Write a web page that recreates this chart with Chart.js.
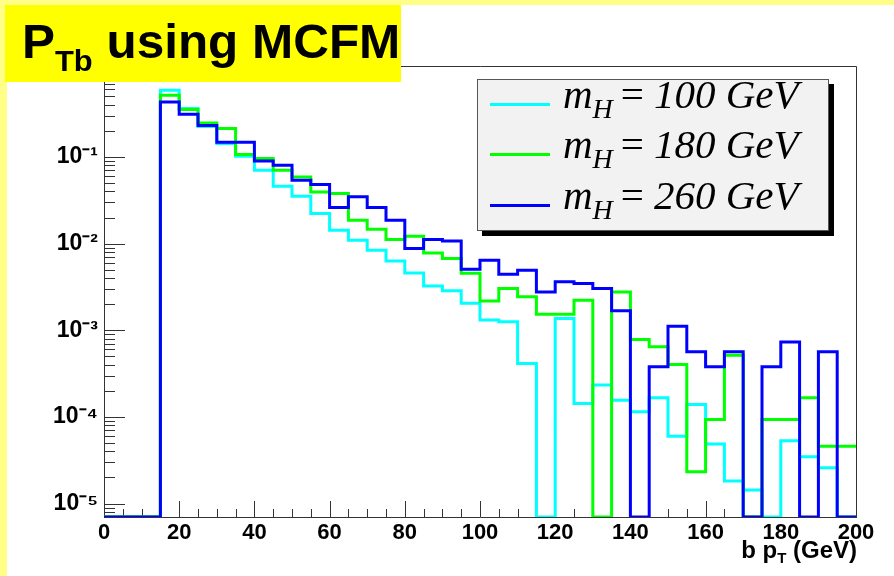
<!DOCTYPE html>
<html>
<head>
<meta charset="utf-8" />
<script src="https://cdnjs.cloudflare.com/ajax/libs/Chart.js/4.4.1/chart.umd.js"></script>
<style>
  body { margin: 0; background: #fff; }
  #page { position: relative; width: 894px; height: 576px; overflow: hidden; background: #fff; }
  #topband { position: absolute; left: 0; top: 0; width: 894px; height: 5px; background: #ffff88; }
  #leftband { position: absolute; left: 0; top: 0; width: 7px; height: 576px; background: #ffff88; }
  #chart { position: absolute; left: 0; top: 0; }
  #title {
    position: absolute; left: 5px; top: 5px; width: 396px; height: 77px; background: #ffff00;
    font-family: "Liberation Sans", Arial, sans-serif; font-weight: 700; font-size: 48px; color: #000;
    white-space: nowrap;
  }
  #title .t { position: absolute; left: 17px; top: 13px; line-height: 1; transform: scaleX(1.03); transform-origin: left; }
  #title sub { font-size: 30px; vertical-align: -13px; line-height: 1; }
  #legend {
    position: absolute; left: 477px; top: 79px; width: 350px; height: 150px;
    background: #f2f2f2; border: 1px solid #555; box-shadow: 5px 5px 0 #000;
  }
  .row { position: absolute; left: 0; height: 50px; width: 350px; }
  .row .ln { position: absolute; left: 12px; top: 0; width: 60px; height: 3px; }
  .row .tx {
    position: absolute; left: 85px; top: -33px; white-space: nowrap;
    font-family: "Liberation Serif", "Times New Roman", serif; font-style: italic; font-size: 41px; color: #000;
  }
  .row .tx sub { font-size: 28px; vertical-align: -10px; }
  .row .tx .eq { font-style: normal; margin: 0 10px 0 8px; }
  #xtitle {
    position: absolute; right: 37px; top: 536px; white-space: nowrap;
    font-family: "Liberation Sans", Arial, sans-serif; font-weight: 700; font-size: 24px; color: #000;
  }
  #xtitle sub { font-size: 15px; vertical-align: -5px; }
</style>
</head>
<body>
<div id="page">
  <canvas id="chart" width="894" height="576"></canvas>
  <div id="topband"></div>
  <div id="leftband"></div>
  <div id="title"><div class="t">P<sub>Tb</sub> using MCFM</div></div>
  <div id="legend">
    <div class="row" style="top:23px"><div class="ln" style="background:#00ffff"></div><div class="tx">m<sub>H</sub><span class="eq">=</span>100 GeV</div></div>
    <div class="row" style="top:73px"><div class="ln" style="background:#00ff00"></div><div class="tx">m<sub>H</sub><span class="eq">=</span>180 GeV</div></div>
    <div class="row" style="top:124px"><div class="ln" style="background:#0000ff"></div><div class="tx">m<sub>H</sub><span class="eq">=</span>260 GeV</div></div>
  </div>
  <div id="xtitle">b p<sub>T</sub> (GeV)</div>
</div>

<script>
  // bins of 5 GeV from 0 to 200 (lower edges), 0 = empty bin
  const binEdges = [0,5,10,15,20,25,30,35,40,45,50,55,60,65,70,75,80,85,90,95,
                    100,105,110,115,120,125,130,135,140,145,150,155,160,165,170,175,180,185,190,195,200];
  const mH100 = [0,0,0, 0.587,0.361,0.225,0.143,0.102,0.0703,0.0459,0.0352,0.0222,0.0143,0.0109,0.0084,0.0063,
                 0.00459,0.00323,0.00285,0.00205,0.00131,0.00125,0.000414,0,0.00137,0.000143,0.000233,0.000156,
                 0.000115,0.000166,0.00006,0.000139,0.0000486,0.0000182,0.0000143,0,0.000053,0.0000347,0.0000259,0];
  const mH180 = [0,0,0, 0.515,0.352,0.247,0.213,0.107,0.0959,0.0703,0.0588,0.0394,0.0378,0.0186,0.01465,0.01114,
                 0.01217,0.00781,0.00673,0.00456,0.00218,0.00303,0.00243,0.00153,0.00153,0.00222,0,0.00277,
                 0.000783,0.000644,0.000403,0.0000233,0.0000935,0.000516,0,0.0000935,0.0000935,0.000166,0.000046,0.000046];
  const mH260 = [0,0,0, 0.430,0.310,0.230,0.148,0.148,0.090,0.0802,0.0538,0.0481,0.0261,0.0346,0.0261,0.0186,
                 0.00877,0.01114,0.01074,0.00507,0.00644,0.00444,0.00493,0.00277,0.00362,0.00347,0.00303,0.00168,
                 0,0.000379,0.00111,0.000564,0.000379,0.000564,0,0.000379,0.000734,0,0.000564,0];
  const yTicks = [1e-5, 1e-4, 1e-3, 1e-2, 1e-1];
  const yMin = 7.0e-6, yMax = 1.12;

  const sup = { "-": "\u207B", "0": "\u2070", "1": "\u00B9", "2": "\u00B2", "3": "\u00B3", "4": "\u2074", "5": "\u2075" };

  function histPoints(vals) {
    // empty bins sit on the bottom of the frame, like ROOT draws them
    let pts = vals.map((v, i) => ({ x: binEdges[i], y: v > 0 ? v : yMin }));
    pts.push({ x: binEdges[binEdges.length - 1], y: vals[vals.length - 1] > 0 ? vals[vals.length - 1] : yMin });
    return pts;
  }

  const frameTicks = {
    id: "frameTicks",
    beforeDatasetsDraw(chart) {
      const ctx = chart.ctx, a = chart.chartArea, x = chart.scales.x, y = chart.scales.y;
      ctx.save();
      ctx.strokeStyle = "#333";
      ctx.lineWidth = 1;
      ctx.beginPath();
      ctx.moveTo(a.left, a.top + 0.5);
      ctx.lineTo(a.right + 0.5, a.top + 0.5);
      ctx.lineTo(a.right + 0.5, a.bottom);
      for (let e = -6; e <= 0; e++) {
        for (let k = 1; k <= 9; k++) {
          const v = k * Math.pow(10, e);
          if (v < y.min || v > y.max) continue;
          const py = Math.round(y.getPixelForValue(v)) + 0.5;
          ctx.moveTo(a.left, py);
          ctx.lineTo(a.left + (k === 1 ? 21 : 11), py);
        }
      }
      for (let v = 0; v <= 200; v += 5) {
        const px = Math.round(x.getPixelForValue(v)) + 0.5;
        ctx.moveTo(px, a.bottom);
        ctx.lineTo(px, a.bottom - (v % 20 === 0 ? 16 : 8));
      }
      ctx.stroke();
      ctx.restore();
    }
  };

  new Chart(document.getElementById("chart"), {
    type: "line",
    data: {
      datasets: [
        { data: histPoints(mH100), borderColor: "#00ffff", order: 3 },
        { data: histPoints(mH180), borderColor: "#00ff00", order: 2 },
        { data: histPoints(mH260), borderColor: "#0000ff", order: 1 }
      ]
    },
    options: {
      responsive: false,
      animation: false,
      devicePixelRatio: 1,
      layout: { padding: { left: 0, top: 66, right: 38, bottom: 0 } },
      elements: {
        line: { borderWidth: 3, stepped: "before", tension: 0, fill: false },
        point: { radius: 0, hoverRadius: 0 }
      },
      plugins: { legend: { display: false }, tooltip: { enabled: false }, title: { display: false } },
      scales: {
        x: {
          type: "linear",
          min: 0,
          max: 200,
          afterFit: s => { s.height = 59; },
          grid: { drawOnChartArea: false, drawTicks: false },
          border: { display: true, color: "#333", width: 1 },
          ticks: {
            stepSize: 20,
            padding: 3,
            maxRotation: 0,
            color: "#000",
            font: { family: "Liberation Sans", weight: "bold", size: 22 }
          }
        },
        y: {
          type: "logarithmic",
          min: yMin,
          max: yMax,
          afterFit: s => { s.width = 104; },
          afterBuildTicks: s => { s.ticks = yTicks.map(v => ({ value: v })); },
          grid: { drawOnChartArea: false, drawTicks: false },
          border: { display: true, color: "#333", width: 1 },
          ticks: {
            padding: 6,
            color: "#000",
            font: { family: "Liberation Sans", weight: "bold", size: 23 },
            callback: v => "10" + String(Math.round(Math.log10(v))).split("").map(c => sup[c]).join("")
          }
        }
      }
    },
    plugins: [frameTicks]
  });
</script>
</body>
</html>
